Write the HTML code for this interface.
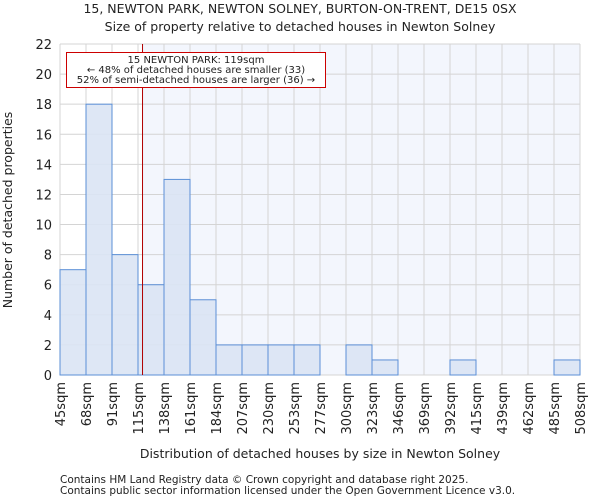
<!DOCTYPE html>
<html><head><meta charset="utf-8"><style>
body{margin:0;background:#fff;font-family:"DejaVu Sans","Liberation Sans",sans-serif;}
svg text{font-family:"DejaVu Sans","Liberation Sans",sans-serif;fill:#222;}
</style></head><body>
<svg id="c" width="600" height="500"></svg>
<script>
const binLabels=["45sqm","68sqm","91sqm","115sqm","138sqm","161sqm","184sqm","207sqm","230sqm","253sqm","277sqm","300sqm","323sqm","346sqm","369sqm","392sqm","415sqm","439sqm","462sqm","485sqm","508sqm"];
const binEdges=[45,68,91,115,138,161,184,207,230,253,277,300,323,346,369,392,415,439,462,485,508];
const counts=[7,18,8,6,13,5,2,2,2,2,0,2,1,0,0,1,0,0,0,1];
const yTicks=[0,2,4,6,8,10,12,14,16,18,20,22];
const propertySize=119;
const NS="http://www.w3.org/2000/svg";
const svg=document.getElementById('c');
const L=60,R=580,T=44,B=375,YMAX=22;
function xIdx(i){return L+(R-L)*i/counts.length;}
function xVal(v){for(let i=0;i<binEdges.length-1;i++){if(v<=binEdges[i+1]){return xIdx(i)+(v-binEdges[i])/(binEdges[i+1]-binEdges[i])*(xIdx(i+1)-xIdx(i));}}return R;}
function y(v){return B-(B-T)*v/YMAX;}
function el(t,a,txt){const e=document.createElementNS(NS,t);for(const k in a)e.setAttribute(k,a[k]);if(txt!==undefined)e.textContent=txt;svg.appendChild(e);return e;}
const px=xVal(propertySize);
let e;
e=el('rect',{x:px,y:T,width:R-px,height:B-T,fill:'#f3f6fd'});


yTicks.forEach(t=>{e=el('line',{x1:L,x2:R,y1:y(t),y2:y(t),stroke:'#d4d4d4','stroke-width':1});


e=el('text',{x:L-8,y:y(t)+5,'text-anchor':'end','font-size':13},t);

});
binLabels.forEach((lab,i)=>{const x=xIdx(i);
e=el('line',{x1:x,x2:x,y1:T,y2:B,stroke:'#d4d4d4','stroke-width':1});


e=el('text',{x:0,y:0,'text-anchor':'end','font-size':13,transform:`translate(${x+5},382) rotate(-90)`},lab);

});
counts.forEach((c,i)=>{if(c<=0)return;
e=el('rect',{x:xIdx(i),y:y(c),width:xIdx(i+1)-xIdx(i),height:B-y(c),fill:'#dae4f4','fill-opacity':0.9,stroke:'#5b8fd6','stroke-width':1});

});
e=el('line',{x1:px,x2:px,y1:T,y2:B,stroke:'#b00000','stroke-width':1});


e=el('rect',{x:66.5,y:52.5,width:259,height:35,fill:'#fff',stroke:'#cc0000','stroke-width':1});


[["15 NEWTON PARK: 119sqm",63],["← 48% of detached houses are smaller (33)",73],["52% of semi-detached houses are larger (36) →",83]].forEach(a=>{
e=el('text',{x:196,y:a[1],'text-anchor':'middle','font-size':10},a[0]);

});
e=el('text',{x:300,y:13,'text-anchor':'middle','font-size':12.5},"15, NEWTON PARK, NEWTON SOLNEY, BURTON-ON-TRENT, DE15 0SX");


e=el('text',{x:300,y:31,'text-anchor':'middle','font-size':12.5},"Size of property relative to detached houses in Newton Solney");


e=el('text',{x:0,y:0,'text-anchor':'middle','font-size':12.5,transform:'translate(12,210) rotate(-90)'},"Number of detached properties");


e=el('text',{x:320,y:458,'text-anchor':'middle','font-size':12.5},"Distribution of detached houses by size in Newton Solney");


e=el('text',{x:60,y:483,'font-size':10.5,fill:'#444'},"Contains HM Land Registry data © Crown copyright and database right 2025.");


e=el('text',{x:60,y:494,'font-size':10.5,fill:'#444'},"Contains public sector information licensed under the Open Government Licence v3.0.");


</script>
</body></html>
